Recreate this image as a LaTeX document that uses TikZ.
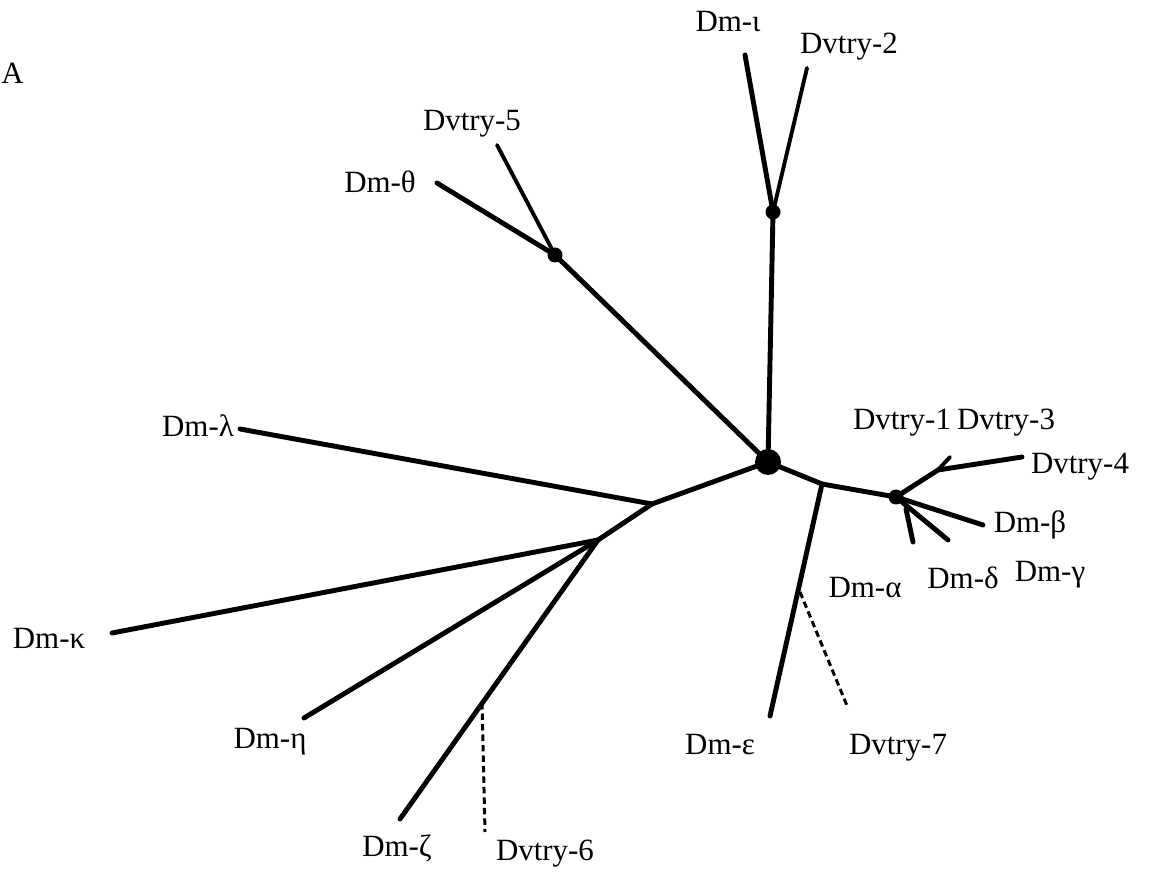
\documentclass[tikz,border=0pt]{standalone}
\usepackage{fontspec}
\setmainfont{Liberation Serif}
\begin{document}
\begin{tikzpicture}[x=0.02cm,y=-0.02cm,
  branch/.style={line width=2.8pt, line cap=round},
  twig/.style={line width=2.2pt, line cap=round},
  ghost/.style={line width=1.7pt, dash pattern=on 0.13cm off 0.08cm},
  hub/.style={circle, fill=black, inner sep=0pt, minimum size=0.3cm},
  bighub/.style={hub, minimum size=0.52cm},
  lbl/.style={font=\fontsize{17.6}{20}\selectfont, inner sep=0pt}]
\useasboundingbox (0,0) rectangle (1149,874);
\clip (0,0) rectangle (1149,874);

% internal nodes of the tree
\node[bighub] (C) at (768,462) {};
\node[hub] (N1) at (773,212) {};
\node[hub] (N2) at (555,255) {};
\node[hub] (N3) at (896,497) {};
\coordinate (J1) at (652,504);
\coordinate (J2) at (598,540);
\coordinate (J3) at (822,484);
\coordinate (F) at (938,470);

% leaf ends
\coordinate (iota) at (745,55);
\coordinate (dv2) at (807,68);
\coordinate (theta) at (437,183);
\coordinate (dv5) at (497,145);
\coordinate (lambda) at (240,429);
\coordinate (kappa) at (112,633);
\coordinate (eta) at (304,718);
\coordinate (zeta) at (400,819);
\coordinate (eps) at (770,716);
\coordinate (dv6a) at (482,703);
\coordinate (dv6b) at (485,832);
\coordinate (dv7a) at (800,592);
\coordinate (dv7b) at (848,708);
\coordinate (dv13) at (950,457);
\coordinate (dv4) at (1022,457);
\coordinate (beta) at (983,525);
\coordinate (deltaA) at (906,509);
\coordinate (delta) at (913,542);
\coordinate (gamma) at (948,540);

% branches
\draw[branch] (C.center) -- (N1.center);
\draw[branch] (N1.center) -- (iota);
\draw[twig] (N1.center) -- (dv2);
\draw[branch] (C.center) -- (N2.center) -- (theta);
\draw[twig] (N2.center) -- (dv5);
\draw[branch] (C.center) -- (J1) -- (J2);
\draw[branch] (J1) -- (lambda);
\draw[branch] (J2) -- (kappa);
\draw[branch] (J2) -- (eta);
\draw[branch] (J2) -- (zeta);
\draw[branch] (C.center) -- (J3) -- (N3.center);
\draw[branch] (J3) -- (eps);
\draw[ghost] (dv6a) -- (dv6b);
\draw[ghost] (dv7a) -- (dv7b);
\draw[branch] (N3.center) -- (F) -- (dv4);
\draw[twig] (F) -- (dv13);
\draw[branch] (N3.center) -- (beta);
\draw[branch] (N3.center) -- (gamma);
\draw[branch] (deltaA) -- (delta);

% labels
\node[lbl, anchor=west] (tA) at (1,73) {A};
\node[lbl] (tiota) at (728,22) {Dm-ι};
\node[lbl] (tdv2) at (849,47) {Dvtry-2};
\node[lbl] (ttheta) at (380,182) {Dm-θ};
\node[lbl] (tdv5) at (472,124) {Dvtry-5};
\node[lbl] (tlambda) at (198,426) {Dm-λ};
\node[lbl] (tkappa) at (49,638) {Dm-κ};
\node[lbl] (teta) at (270,742) {Dm-η};
\node[lbl] (tzeta) at (397,848) {Dm-ζ};
\node[lbl] (tdv6) at (545,854) {Dvtry-6};
\node[lbl] (teps) at (720,745) {Dm-ε};
\node[lbl] (tdv7) at (898,748) {Dvtry-7};
\node[lbl] (talpha) at (865,588) {Dm-α};
\node[lbl] (tdelta) at (963,578) {Dm-δ};
\node[lbl] (tgamma) at (1050,575) {Dm-γ};
\node[lbl] (tbeta) at (1030,525) {Dm-β};
\node[lbl] (tdv1) at (902,423) {Dvtry-1};
\node[lbl] (tdv3) at (1006,423) {Dvtry-3};
\node[lbl] (tdv4) at (1080,467) {Dvtry-4};
\end{tikzpicture}
\end{document}
